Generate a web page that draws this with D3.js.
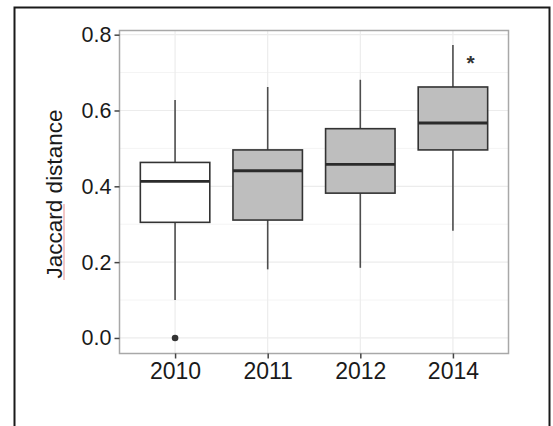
<!DOCTYPE html>
<html>
<head>
<meta charset="utf-8">
<script src="https://cdn.jsdelivr.net/npm/d3@7"></script>
<style>
  html, body { margin: 0; padding: 0; background: #fff; }
  svg { display: block; font-family: "Liberation Sans", Arial, sans-serif; }
</style>
</head>
<body>
<div id="chart"></div>
<script>
// Jaccard distance by year - boxplot summary
const years = ['2010', '2011', '2012', '2014'];
const lowerWhisker = [0.100, 0.181, 0.185, 0.283];
const q1 = [0.305, 0.311, 0.382, 0.496];
const median = [0.413, 0.441, 0.458, 0.567];
const q3 = [0.463, 0.496, 0.552, 0.662];
const upperWhisker = [0.628, 0.662, 0.681, 0.773];
const outlierYears = ['2010'];
const outlierValues = [0.0];
const yTicks = [0.0, 0.2, 0.4, 0.6, 0.8];
const minorTicks = [0.1, 0.3, 0.5, 0.7];
const starYear = '2014';
const starValue = 0.735;

const W = 553, H = 426;
const panel = { left: 119.5, top: 30.5, right: 508.5, bottom: 353.5 };

const svg = d3.select('#chart').append('svg')
  .attr('width', W).attr('height', H);

// outer frame of the figure (runs off the bottom)
svg.append('rect')
  .attr('x', 14.5).attr('y', 7.5).attr('width', 535).attr('height', 440)
  .attr('fill', 'none').attr('stroke', '#1a1a1a').attr('stroke-width', 2);

const x = d3.scalePoint().domain(years).range([panel.left, panel.right]).padding(0.6);
const y = d3.scaleLinear().domain([-0.041, 0.811]).range([panel.bottom, panel.top]);
const boxW = x.step() * 0.75;
const fill = d3.scaleOrdinal().domain(years).range(['#ffffff', '#bebebe', '#bebebe', '#bebebe']);

const boxes = years.map((yr, i) => ({
  year: yr, lo: lowerWhisker[i], q1: q1[i], med: median[i], q3: q3[i], hi: upperWhisker[i]
}));

// panel background + grid
svg.append('rect')
  .attr('x', panel.left).attr('y', panel.top)
  .attr('width', panel.right - panel.left).attr('height', panel.bottom - panel.top)
  .attr('fill', '#fff');

const grid = svg.append('g');
grid.selectAll('line.minor').data(minorTicks).join('line')
  .attr('class', 'minor')
  .attr('x1', panel.left).attr('x2', panel.right)
  .attr('y1', d => y(d)).attr('y2', d => y(d))
  .attr('stroke', '#f4f4f4').attr('stroke-width', 1);
grid.selectAll('line.major').data(yTicks).join('line')
  .attr('class', 'major')
  .attr('x1', panel.left).attr('x2', panel.right)
  .attr('y1', d => y(d)).attr('y2', d => y(d))
  .attr('stroke', '#ececec').attr('stroke-width', 1.2);
grid.selectAll('line.vert').data(years).join('line')
  .attr('class', 'vert')
  .attr('x1', d => x(d)).attr('x2', d => x(d))
  .attr('y1', panel.top).attr('y2', panel.bottom)
  .attr('stroke', '#ececec').attr('stroke-width', 1.2);

// boxes
const g = svg.append('g');
const bx = g.selectAll('g.box').data(boxes).join('g').attr('class', 'box');

bx.append('line')
  .attr('x1', d => x(d.year)).attr('x2', d => x(d.year))
  .attr('y1', d => y(d.hi)).attr('y2', d => y(d.q3))
  .attr('stroke', '#4d4d4d').attr('stroke-width', 1.6);
bx.append('line')
  .attr('x1', d => x(d.year)).attr('x2', d => x(d.year))
  .attr('y1', d => y(d.q1)).attr('y2', d => y(d.lo))
  .attr('stroke', '#4d4d4d').attr('stroke-width', 1.6);
bx.append('rect')
  .attr('x', d => x(d.year) - boxW / 2).attr('width', boxW)
  .attr('y', d => y(d.q3)).attr('height', d => y(d.q1) - y(d.q3))
  .attr('fill', d => fill(d.year))
  .attr('stroke', '#333').attr('stroke-width', 1.6);
bx.append('line')
  .attr('x1', d => x(d.year) - boxW / 2).attr('x2', d => x(d.year) + boxW / 2)
  .attr('y1', d => y(d.med)).attr('y2', d => y(d.med))
  .attr('stroke', '#2b2b2b').attr('stroke-width', 2.8);

// outliers
g.selectAll('circle.outlier').data(outlierYears).join('circle')
  .attr('class', 'outlier')
  .attr('cx', d => x(d)).attr('cy', (d, i) => y(outlierValues[i]))
  .attr('r', 3.3).attr('fill', '#333');

// significance star
svg.append('text')
  .attr('x', x(starYear) + x.step() * 0.19)
  .attr('y', y(starValue) + 11)
  .attr('text-anchor', 'middle')
  .attr('font-size', 21).attr('font-weight', 'bold').attr('fill', '#333')
  .text('*');

// panel border
svg.append('rect')
  .attr('x', panel.left).attr('y', panel.top)
  .attr('width', panel.right - panel.left).attr('height', panel.bottom - panel.top)
  .attr('fill', 'none').attr('stroke', '#a8a8a8').attr('stroke-width', 1.5);

// axes
const yAxis = d3.axisLeft(y).tickValues(yTicks).tickFormat(d3.format('.1f')).tickSize(5).tickPadding(3);
const yAxisG = svg.append('g').attr('transform', `translate(${panel.left},0)`).call(yAxis);
const xAxis = d3.axisBottom(x).tickSize(5).tickPadding(4);
const xAxisG = svg.append('g').attr('transform', `translate(0,${panel.bottom})`).call(xAxis);

[yAxisG, xAxisG].forEach(a => {
  a.select('.domain').remove();
  a.selectAll('.tick line').attr('stroke', '#444').attr('stroke-width', 1.5);
  a.selectAll('.tick text').attr('fill', '#1a1a1a').attr('font-family', '"Liberation Sans", Arial, sans-serif');
});
yAxisG.selectAll('.tick text').attr('font-size', 21.5);
xAxisG.selectAll('.tick text').attr('font-size', 23);

// y axis title
svg.append('text')
  .attr('transform', `translate(62,194) rotate(-90)`)
  .attr('text-anchor', 'middle')
  .attr('font-size', 22.5).attr('fill', '#1a1a1a')
  .text('Jaccard distance');

// spell-check underline next to "Jaccard"
svg.append('line')
  .attr('x1', 64).attr('x2', 64).attr('y1', 204).attr('y2', 280)
  .attr('stroke', '#e06060').attr('stroke-width', 1).attr('opacity', 0.7);
</script>
</body>
</html>
